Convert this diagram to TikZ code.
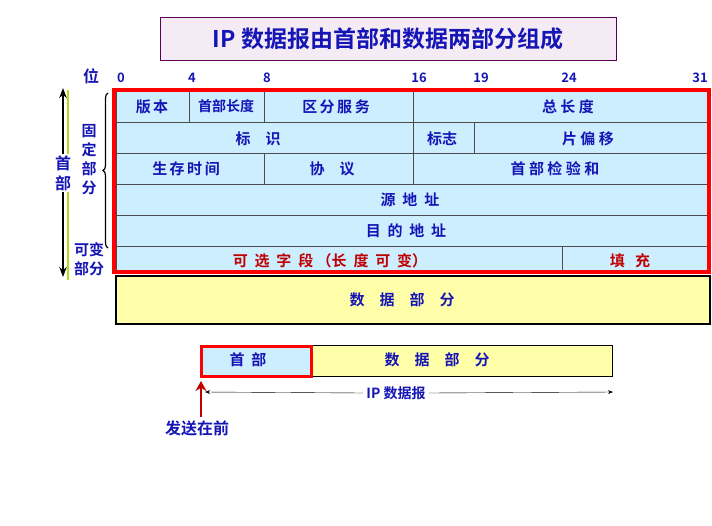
\documentclass[tikz,border=0pt]{standalone}
\usepackage{fontspec}
\setmainfont{Noto Sans CJK SC Bold}
\usetikzlibrary{decorations.pathreplacing,arrows.meta}
\definecolor{tb}{HTML}{1515B5}
\definecolor{tr}{HTML}{C00000}
\definecolor{lb}{HTML}{CCEEFF}
\definecolor{ly}{HTML}{FFFFAA}
\begin{document}
\begin{tikzpicture}[x=1pt,y=-1pt,
  cell/.style={draw=black!70,fill=lb,line width=0.6pt},
  lbl/.style={text=tb,font=\fontsize{15}{18}\selectfont},
  rlbl/.style={text=tr,font=\fontsize{15}{18}\selectfont},
  num/.style={text=tb,font=\fontsize{13}{13}\selectfont}]
\useasboundingbox (0,0) rectangle (712,525);
% title
\node[draw=violet!70!black,fill=violet!8,minimum width=456pt,minimum height=43pt,text=tb,font=\fontsize{23}{23}\selectfont,line width=0.8pt] (title) at (388,38.5) {IP 数据报由首部和数据两部分组成};
% cells
\draw[cell] (116,91) rectangle (189,122); \node[lbl] (c1) at (152,107) {版\,本};
\draw[cell] (189,91) rectangle (264,122); \node[lbl,font=\fontsize{14}{14}\selectfont] (c2) at (226,106) {首部长度};
\draw[cell] (264,91) rectangle (413,122); \node[lbl] (c3) at (336,107) {区\,分\,服\,务};
\draw[cell] (413,91) rectangle (710,122); \node[lbl] (c4) at (568,107) {总\ 长\ 度};
\draw[cell] (116,122) rectangle (413,153); \node[lbl] (c5) at (258,139) {标\quad 识};
\draw[cell] (413,122) rectangle (474,153); \node[lbl] (c6) at (442,139) {标志};
\draw[cell] (474,122) rectangle (710,153); \node[lbl] (c7) at (588,139) {片\ 偏\ 移};
\draw[cell] (116,153) rectangle (264,184); \node[lbl] (c8) at (186,169) {生\,存\,时\,间};
\draw[cell] (264,153) rectangle (413,184); \node[lbl] (c9) at (332,169) {协\quad 议};
\draw[cell] (413,153) rectangle (710,184); \node[lbl] (c10) at (555,169) {首\ 部\ 检\ 验\ 和};
\draw[cell] (116,184) rectangle (710,215); \node[lbl] (c11) at (410,200) {源\ \ 地\ \ 址};
\draw[cell] (116,215) rectangle (710,246); \node[lbl] (c12) at (406,231) {目\ \ 的\ \ 地\ \ 址};
\draw[cell] (116,246) rectangle (562,273); \node[rlbl] (c13) at (330,261) {可\ \ 选\ \ 字\ \ 段\ （长\ \ 度\ \ 可\ \ 变）};
\draw[cell] (562,246) rectangle (710,273); \node[rlbl] (c14) at (630,261) {填\ \ \ 充};
\draw[red,line width=3.5pt] (114,90) rectangle (709,272);
\draw[black,line width=1.2pt,fill=ly] (116,276) rectangle (710,324); \node[lbl] (d) at (402,300) {数\quad 据\quad 部\quad 分};
% bit numbers
\node[lbl,font=\fontsize{16}{16}\selectfont] (wei) at (91,76) {位};
\foreach \b/\x in {0/121,4/192,8/267,16/419,19/481,24/569,31/700} \node[num] at (\x,78) {\b};
% left annotations
\draw[yellow!70!green,line width=2.5pt] (68,90) -- (68,280);
\coordinate (at) at (63,88); \coordinate (ab) at (63,277);
\node[lbl,align=center,inner sep=1pt,fill=white,font=\fontsize{16}{20}\selectfont] (sb) at (63,173) {首\\部};
\draw[-{Stealth[length=10pt]},line width=1.8pt] (sb.north) -- (at);
\draw[-{Stealth[length=10pt]},line width=1.8pt] (sb.south) -- (ab);
\draw[decorate,decoration={brace,amplitude=5pt},line width=1.2pt] (108,248) -- (108,93);
\node[lbl,align=center,inner sep=0pt,font=\fontsize{15}{19}\selectfont] (gd) at (89,160) {固\\定\\部\\分};
\node[lbl,align=center,inner sep=0pt,fill=white,font=\fontsize{15}{19}\selectfont] (kb) at (89,259) {可变\\部分};
% bottom
\draw[black!70,fill=lb] (200,345) rectangle (311,376);
\draw[black,fill=ly] (311,345) rectangle (612,376);
\draw[red,line width=3pt] (201,346) rectangle (311,376);
\node[lbl] (h) at (248,360) {首\ \ 部};
\node[lbl] (dd) at (437,360) {数\quad 据\quad 部\quad 分};
\node[lbl,font=\fontsize{14}{14}\selectfont,fill=white] (ip) at (396,393) {IP 数据报};
\coordinate (l) at (205,392); \coordinate (r) at (613,392);
\draw[-{Stealth[length=5pt]}] (ip.west) -- (l);
\draw[-{Stealth[length=5pt]}] (ip.east) -- (r);
\node[lbl,font=\fontsize{16}{16}\selectfont] (fs) at (197,428) {发送在前};
\coordinate (fb) at (201,417);
\draw[tr,line width=2pt,-{Stealth[length=10pt,width=11pt]}] (fb) -- (201,381);
\end{tikzpicture}
\end{document}
